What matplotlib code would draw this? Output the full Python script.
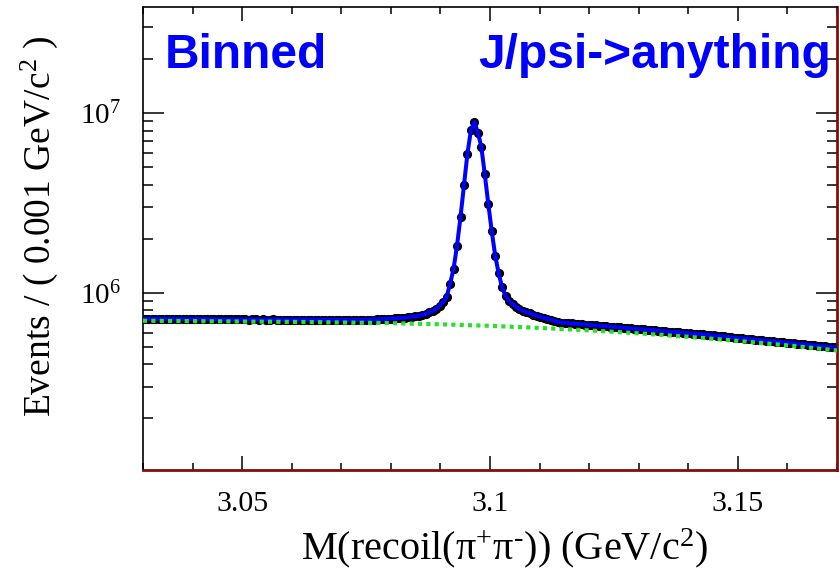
import numpy as np
import matplotlib
matplotlib.use("Agg")
import matplotlib.pyplot as plt
from matplotlib.ticker import MultipleLocator, FuncFormatter, LogLocator, NullFormatter

# ---------------- data ----------------
bin_lo = 3.03
bin_width = 0.0007
x_range = (3.03, 3.17)
y_range = (1.03e5, 3.9e7)

# events per bin (in thousands)
counts_k = [
    716, 716, 717, 716, 716, 715, 716, 716, 715, 716, 715, 715, 716, 715, 715, 714, 715, 714, 714, 714, 713,
    711, 711, 710, 711, 710, 710, 711, 710, 710, 709, 710, 710, 709, 710, 709, 709, 710, 709, 709, 709,
    708, 709, 709, 708, 709, 708, 708, 709, 708, 708, 708, 708, 707, 708, 708, 707, 708, 707, 707, 708,
    707, 707, 707,
    707, 708, 709, 710, 711, 713, 715, 717, 719, 721, 723, 726, 730, 734, 739,
    744, 753, 763, 778, 793, 814, 846, 890, 950, 1120,
    1360, 1830, 2640, 3960, 5960, 8030, 8930, 7800, 6490, 4560,
    3130, 2200, 1610, 1280, 1070, 960, 900, 868, 835, 810,
    793, 780, 768, 756, 744, 734, 725, 716, 707, 698, 690,
    682, 679.5, 677.0, 674.5, 672.0, 669.5, 667.0, 664.6, 662.1, 659.7, 657.2,
    654.8, 652.4, 650.0, 647.6, 645.2, 642.8, 640.4, 638.1, 635.7, 633.4,
    631.0, 628.7, 626.4, 624.1, 621.8, 619.5, 617.2, 614.9, 612.6, 610.4,
    608.1, 605.9, 603.6, 601.4, 599.2, 597.0, 594.8, 592.6, 590.4, 588.2,
    585.6, 583.1, 580.5, 578.0, 575.5, 573.0, 570.5, 568.0, 565.5, 563.0,
    560.6, 558.1, 555.7, 553.2, 550.8, 548.4, 546.0, 543.6, 541.2, 538.8,
    536.5, 534.1, 531.8, 529.5, 527.1, 524.8, 522.5, 520.2, 518.0, 515.7,
    513.4, 511.2, 509.0, 506.7, 504.5, 502.3, 500.1, 497.9, 495.7,
]

# background component (green dotted), values read at these masses (thousands)
bkg_x = [3.03, 3.04, 3.05, 3.06, 3.07, 3.08, 3.09, 3.10, 3.11, 3.12, 3.13, 3.14, 3.15, 3.16, 3.17]
bkg_k = [698, 695, 691, 688, 683, 677, 667, 654, 637, 617, 594, 568, 539, 509, 477]

x_ticks = [3.05, 3.10, 3.15]

# ---------------- style ----------------
plt.rcParams['font.family'] = ['Liberation Serif', 'DejaVu Serif']
plt.rcParams['mathtext.fontset'] = 'custom'
plt.rcParams['mathtext.rm'] = 'Liberation Serif'
plt.rcParams['mathtext.it'] = 'Liberation Serif:italic'
plt.rcParams['mathtext.bf'] = 'Liberation Serif:bold'

counts = np.array(counts_k) * 1e3
bkg = np.array(bkg_k) * 1e3
centers = bin_lo + (np.arange(len(counts)) + 0.5) * bin_width

W, H = 839, 574
fig = plt.figure(figsize=(W / 100, H / 100), dpi=100)
ax = fig.add_axes([143 / W, (H - 470) / H, (837 - 143) / W, (470 - 7) / H])

ax.errorbar(centers, counts, xerr=bin_width / 2, yerr=np.sqrt(counts), fmt='o',
            color='black', ms=5.6, elinewidth=1.2, capsize=0, zorder=2)
ax.plot(centers, counts, color='#0000ff', lw=2.9, zorder=3)
ax.plot(bkg_x, bkg, color='#2be02b', lw=3.0, linestyle=(0, (1.0, 1.0)), zorder=4)

ax.set_yscale('log')
ax.set_xlim(*x_range)
ax.set_ylim(*y_range)

ax.set_xticks(x_ticks)
ax.xaxis.set_minor_locator(MultipleLocator(0.01))
ax.xaxis.set_major_formatter(FuncFormatter(lambda v, p: '%g' % round(v, 4)))
ax.yaxis.set_major_locator(LogLocator(base=10))
ax.yaxis.set_minor_locator(LogLocator(base=10, subs=np.arange(2, 10)))
ax.yaxis.set_minor_formatter(NullFormatter())

ax.tick_params(axis='x', which='both', direction='in', top=True, bottom=True,
               labelsize=21.5, pad=15, width=1.1)
ax.tick_params(axis='x', which='major', length=10)
ax.tick_params(axis='x', which='minor', length=5)
ax.tick_params(axis='y', which='both', direction='in', left=True, right=True,
               labelsize=21, pad=16, width=1.1)
ax.tick_params(axis='y', which='major', length=15)
ax.tick_params(axis='y', which='minor', length=7)

for s in ['left', 'top']:
    ax.spines[s].set_color('black')
    ax.spines[s].set_linewidth(1.2)
for s in ['bottom', 'right']:
    ax.spines[s].set_color('#7a1010')
    ax.spines[s].set_linewidth(2.0)

fig.text(505 / W, 1 - 548 / H, 'M(recoil(π$^{+}$π$^{\u2010}$)) (GeV/c$^{2}$)',
         ha='center', va='center', fontsize=29)
fig.text(39 / W, 1 - 226 / H, 'Events / ( 0.001 GeV/c$^{2}$ )', rotation=90,
         ha='center', va='center', fontsize=27)

fig.text(165 / W, 1 - 68 / H, 'Binned', color='#0000ff', fontsize=34.5,
         fontweight='bold', family=['Liberation Sans', 'DejaVu Sans'], ha='left', va='baseline')
fig.text(831 / W, 1 - 68 / H, 'J/psi->anything', color='#0000ff', fontsize=34.5,
         fontweight='bold', family=['Liberation Sans', 'DejaVu Sans'], ha='right', va='baseline')

fig.savefig('out.png', dpi=100)
